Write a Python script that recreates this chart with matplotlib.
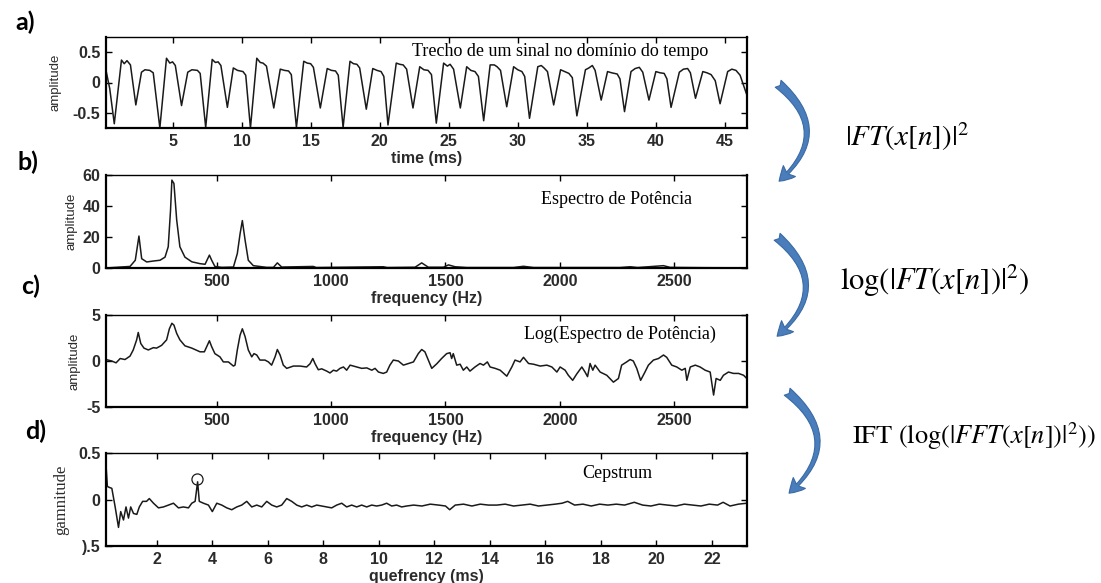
import matplotlib.pyplot as plt
from matplotlib.patches import FancyArrowPatch

plt.rcParams['mathtext.fontset'] = 'stix'

# a) time signal (ms, amplitude)
t_ms = [0.18, 0.45, 0.78, 1.3, 1.5, 1.7, 1.95, 2.34, 2.75, 3.0, 3.35, 3.6, 4.08,
        4.56, 4.8, 5.0, 5.2, 5.65, 6.1, 6.4, 6.8, 7.0, 7.4,
        7.87, 8.1, 8.3, 8.5, 8.97, 9.4, 9.7, 10.1, 10.3, 10.64,
        11.1, 11.35, 11.55, 11.8, 12.33, 12.8, 13.1, 13.4, 13.6, 13.97,
        14.5, 14.75, 15.0, 15.2, 15.7, 16.2, 16.5, 16.8, 17.0, 17.35,
        17.85, 18.1, 18.35, 18.55, 19.03, 19.5, 19.8, 20.1, 20.3, 20.6,
        21.2, 21.45, 21.7, 21.95, 22.41, 22.9, 23.2, 23.5, 23.75, 24.1,
        24.63, 24.9, 25.1, 25.35, 25.84, 26.3, 26.6, 26.9, 27.15, 27.53,
        28.0, 28.3, 28.5, 28.75, 29.2, 29.7, 30.0, 30.3, 30.5, 30.85,
        31.45, 31.7, 31.9, 32.15, 32.6, 33.1, 33.4, 33.7, 33.95, 34.28,
        34.9, 35.15, 35.4, 35.6, 36.04, 36.5, 36.8, 37.2, 37.4, 37.73,
        38.2, 38.5, 38.8, 39.05, 39.5, 40.0, 40.3, 40.6, 40.8, 41.1,
        41.7, 42.0, 42.3, 42.5, 42.87, 43.4, 43.7, 44.0, 44.3, 44.65,
        45.2, 45.5, 45.8, 46.1, 46.55]
amp = [0.2, -0.1, -0.68, 0.37, 0.31, 0.36, 0.29, -0.37, 0.17, 0.21, 0.2, 0.16, -0.75,
       0.40, 0.32, 0.34, 0.28, -0.38, 0.17, 0.21, 0.20, 0.15, -0.74,
       0.38, 0.33, 0.34, 0.28, -0.41, 0.24, 0.20, 0.18, 0.12, -0.75,
       0.40, 0.33, 0.32, 0.27, -0.42, 0.22, 0.20, 0.19, 0.13, -0.74,
       0.35, 0.32, 0.31, 0.25, -0.42, 0.23, 0.20, 0.19, 0.12, -0.74,
       0.35, 0.31, 0.30, 0.24, -0.44, 0.23, 0.20, 0.18, 0.10, -0.70,
       0.32, 0.30, 0.29, 0.22, -0.42, 0.26, 0.21, 0.20, 0.13, -0.67,
       0.32, 0.27, 0.30, 0.22, -0.42, 0.26, 0.20, 0.18, 0.10, -0.63,
       0.29, 0.29, 0.26, 0.20, -0.40, 0.26, 0.21, 0.18, 0.10, -0.59,
       0.26, 0.28, 0.24, 0.18, -0.37, 0.21, 0.18, 0.15, 0.08, -0.55,
       0.21, 0.24, 0.28, 0.20, -0.29, 0.18, 0.16, 0.14, 0.06, -0.48,
       0.18, 0.23, 0.25, 0.17, -0.29, 0.18, 0.16, 0.15, 0.06, -0.41,
       0.17, 0.22, 0.23, 0.16, -0.26, 0.18, 0.16, 0.13, 0.03, -0.35,
       0.18, 0.22, 0.20, 0.12, -0.18]

# b) power spectrum
f_pow = [16, 78, 121, 144, 160, 172, 194, 223, 252, 274, 288, 298, 304, 313, 325, 339,
         361, 391, 427, 449, 468, 478, 492, 522, 573, 590, 602, 612, 624, 638, 660, 682,
         718, 748, 765, 784, 922, 935, 1228, 1245, 1367, 1396, 1425, 1491, 1513, 1542,
         1593, 1797, 1841, 1885, 2263, 2307, 2340, 2453, 2482, 2635, 2820]
power = [0, 0.6, 1.0, 5, 20.6, 6, 3.9, 4.5, 5, 7, 13.7, 37, 56.7, 54.5, 31, 13.7,
         7, 4, 2.8, 2.4, 8.3, 5, 1, 0.4, 0.6, 9.3, 22, 30.6, 18, 5, 1.5, 1.1,
         0.4, 0.4, 3.3, 0.6, 1.0, 0.3, 0.8, 0.3, 0.5, 3.3, 0.5, 0.5, 2.0, 0.8,
         0.3, 0.3, 1.1, 0.3, 0.3, 0.8, 0.3, 1.5, 0.4, 0.2, 0.1]

# c) log power spectrum
f_log = [16, 41, 60, 78, 99, 121, 135, 150, 157, 168, 182, 201, 223, 237, 259, 281, 293,
         304, 313, 325, 339, 361, 391, 427, 446, 456, 468, 478, 492, 514, 529, 551, 573,
         580, 590, 602, 612, 624, 638, 653, 663, 675, 689, 711, 726, 740, 755, 765, 777,
         791, 806, 835, 864, 893, 908, 920, 930, 944, 959, 981, 995, 1010, 1024, 1039,
         1054, 1068, 1083, 1112, 1134, 1156, 1178, 1192, 1207, 1228, 1243, 1257, 1272,
         1294, 1316, 1338, 1360, 1381, 1396, 1410, 1425, 1440, 1462, 1483, 1505, 1520,
         1527, 1534, 1549, 1564, 1578, 1593, 1607, 1629, 1651, 1666, 1683, 1695, 1717,
         1739, 1768, 1790, 1804, 1826, 1841, 1863, 1885, 1914, 1943, 1965, 1987, 2001,
         2023, 2037, 2056, 2074, 2096, 2110, 2121, 2132, 2144, 2154, 2176, 2205, 2234,
         2256, 2270, 2292, 2307, 2321, 2336, 2353, 2372, 2387, 2409, 2431, 2453, 2467,
         2489, 2511, 2533, 2548, 2555, 2570, 2592, 2613, 2635, 2657, 2672, 2683, 2701,
         2715, 2737, 2759, 2781, 2803, 2817]
log_pow = [0.16, 0.0, -0.2, 0.27, 0.16, 0.53, 1.2, 2.3, 3.1, 1.9, 1.4, 1.2, 1.45, 1.4,
           1.7, 2.3, 3.5, 4.1, 3.9, 3.0, 2.3, 1.65, 1.4, 1.0, 1.0, 1.55, 2.2, 1.55, 0.8,
           0.45, -0.1, -0.1, -0.55, -0.45, 1.2, 2.8, 3.5, 2.65, 1.2, 0.45, 0.8, 0.65,
           0.1, 0.1, -0.1, -0.45, 0.45, 1.25, 0.65, -0.45, -0.8, -0.55, -0.55, -0.65,
           -0.3, 0.27, -0.3, -0.95, -0.85, -1.1, -1.3, -1.0, -1.1, -0.8, -0.65, -1.0,
           -0.45, -0.65, -0.8, -0.75, -1.0, -0.8, -1.2, -1.35, -1.2, -0.45, 0.1, 0.0,
           -0.45, -0.27, -0.1, 0.8, 1.25, 1.0, 0.1, -0.8, -0.3, 0.27, 0.8, 0.9, 0.27,
           0.8, -0.45, -0.35, -1.0, -0.65, -1.1, -0.65, -0.27, -0.45, -0.1, -0.65,
           -0.8, -1.0, -1.65, -0.65, 0.1, -0.1, 0.4, -0.27, -0.35, -0.55, -0.45, -0.65,
           -1.2, -0.65, -1.0, -1.55, -2.1, -1.4, -0.65, -1.2, -1.7, -0.27, -1.0, -0.45,
           -1.2, -1.55, -2.3, -1.9, -0.45, -0.1, 0.16, 0.0, -0.8, -2.1, -1.2, -0.45,
           0.1, 0.27, 0.65, 0.4, -0.45, -0.65, -1.0, -0.8, -2.1, -0.65, -0.45, -0.65,
           -1.0, -1.2, -3.7, -1.9, -2.1, -1.55, -1.2, -1.35, -1.35, -1.55, -1.9]

# d) cepstrum
q_ms = [0.17, 0.22, 0.29, 0.38, 0.5, 0.62, 0.7, 0.8, 0.89, 0.98, 1.06, 1.16, 1.28, 1.37,
        1.49, 1.63, 1.73, 1.88, 2.06, 2.24, 2.42, 2.6, 2.78, 2.96, 3.14, 3.26, 3.38, 3.47,
        3.53, 3.68, 3.86, 4.0, 4.16, 4.34, 4.52, 4.7, 4.88, 5.06, 5.24, 5.42, 5.6, 5.78,
        5.96, 6.14, 6.32, 6.5, 6.68, 6.86, 7.04, 7.22, 7.4, 7.58, 7.76, 7.94, 8.12, 8.3,
        8.48, 8.66, 8.84, 9.02, 9.2, 9.38, 9.56, 9.74, 9.92, 10.1, 10.28, 10.46, 10.64,
        10.82, 11.0, 11.25, 11.55, 11.85, 12.15, 12.4, 12.55, 12.75, 13.05, 13.35, 13.65,
        13.95, 14.25, 14.55, 14.85, 15.15, 15.45, 15.75, 16.05, 16.35, 16.6, 16.8, 17.05,
        17.35, 17.65, 17.95, 18.25, 18.55, 18.85, 19.2, 19.5, 19.8, 20.1, 20.4, 20.7,
        21.0, 21.3, 21.6, 21.9, 22.2, 22.4, 22.65, 22.95, 23.26]
ceps = [0.37, 0.14, 0.13, 0.12, -0.08, -0.3, -0.13, -0.22, -0.08, -0.2, -0.08, -0.15,
        -0.16, -0.08, -0.02, -0.02, 0.01, -0.04, -0.09, -0.08, -0.06, -0.04, -0.09,
        -0.08, -0.09, -0.04, -0.02, 0.19, -0.02, -0.04, -0.06, -0.13, -0.04, -0.06,
        -0.09, -0.11, -0.08, -0.06, -0.02, -0.08, -0.06, -0.08, -0.02, -0.06, -0.08,
        -0.06, 0.01, -0.02, -0.06, -0.08, -0.06, -0.08, -0.06, -0.07, -0.08, -0.09,
        -0.06, -0.04, -0.08, -0.06, -0.08, -0.06, -0.08, -0.06, -0.07, -0.06, -0.04,
        -0.07, -0.06, -0.08, -0.07, -0.06, -0.07, -0.05, -0.06, -0.07, -0.11, -0.06,
        -0.05, -0.07, -0.05, -0.06, -0.06, -0.05, -0.07, -0.06, -0.05, -0.07, -0.06,
        -0.05, -0.04, -0.02, -0.06, -0.05, -0.07, -0.05, -0.06, -0.05, -0.06, -0.03,
        -0.06, -0.07, -0.05, -0.06, -0.07, -0.05, -0.06, -0.07, -0.05, -0.06, -0.03,
        -0.07, -0.05, -0.04]
peak_q = 3.44
peak_c = 0.22

W, H = 1101, 583
fig = plt.figure(figsize=(W / 100, H / 100), dpi=100)


def fx(x):
    return x / W


def fy(y):
    return 1 - y / H


sans = 'Liberation Sans'
ink = '#2b2b2b'


def make_axes(top, bottom):
    ax = fig.add_axes([fx(106), fy(bottom), fx(747) - fx(106), fy(top) - fy(bottom)])
    ax.tick_params(direction='in', top=True, right=True, length=4, width=1,
                   labelsize=11.5, labelcolor=ink, pad=4)
    for side in ['left', 'bottom', 'right']:
        ax.spines[side].set_linewidth(1.6)
    ax.spines['top'].set_linewidth(1.0)
    return ax


line_kw = dict(color='#1a1a1a', lw=1.1)
label_font = {'family': sans, 'weight': 'bold', 'size': 11.5}

# panel a
ax1 = make_axes(37, 128)
ax1.plot(t_ms, amp, **line_kw)
ax1.set_xlim(0.18, 46.6)
ax1.set_ylim(-0.75, 0.75)
ax1.set_xticks([5, 10, 15, 20, 25, 30, 35, 40, 45])
ax1.set_yticks([-0.5, 0, 0.5])
ax1.set_yticklabels(['-0.5', '0', '0.5'])
ax1.set_xlabel('time (ms)', fontdict=label_font, color=ink, labelpad=2)
ax1.set_ylabel('amplitude', family=sans, size=9.5, color=ink, labelpad=8)

# panel b
ax2 = make_axes(175, 268)
ax2.plot(f_pow, power, **line_kw)
ax2.set_xlim(16, 2818)
ax2.set_ylim(0, 60)
ax2.set_xticks([500, 1000, 1500, 2000, 2500])
ax2.set_yticks([0, 20, 40, 60])
ax2.set_xlabel('frequency (Hz)', fontdict=label_font, color=ink, labelpad=2)
ax2.set_ylabel('amplitude', family=sans, size=9.5, color=ink, labelpad=4)

# panel c
ax3 = make_axes(315, 407)
ax3.plot(f_log, log_pow, **line_kw)
ax3.set_xlim(16, 2818)
ax3.set_ylim(-5, 5)
ax3.set_xticks([500, 1000, 1500, 2000, 2500])
ax3.set_yticks([-5, 0, 5])
ax3.set_yticklabels(['-5', '0', '5'])
ax3.set_xlabel('frequency (Hz)', fontdict=label_font, color=ink, labelpad=2)
ax3.set_ylabel('amplitude', family=sans, size=9.5, color=ink, labelpad=4)

# panel d
ax4 = make_axes(453, 546)
ax4.plot(q_ms, ceps, **line_kw)
ax4.plot([peak_q], [peak_c], marker='o', ms=8, mfc='none', mec='#1a1a1a', mew=0.9)
ax4.set_xlim(0.17, 23.26)
ax4.set_ylim(-0.5, 0.5)
ax4.set_xticks(list(range(2, 23, 2)))
ax4.set_yticks([-0.5, 0, 0.5])
ax4.set_yticklabels([').5', '0', '0.5'])
ax4.set_xlabel('quefrency (ms)', fontdict=label_font, color=ink, labelpad=2)
ax4.set_ylabel('gamnitude', family='Liberation Serif', size=12, color=ink, labelpad=6)

for ax in [ax1, ax2, ax3, ax4]:
    for lab in ax.get_xticklabels() + ax.get_yticklabels():
        lab.set_fontfamily(sans)
        lab.set_fontweight('bold')

# titles inside the panels
serif = 'Liberation Serif'
fig.text(fx(560), fy(52), 'Trecho de um sinal no domínio do tempo', family=serif,
         size=13, ha='center', va='center')
fig.text(fx(617), fy(199), 'Espectro de Potência', family=serif, size=13,
         ha='center', va='center')
fig.text(fx(620), fy(334), 'Log(Espectro de Potência)', family=serif, size=13,
         ha='center', va='center')
fig.text(fx(617), fy(473), 'Cepstrum', family=serif, size=13, ha='center', va='center')

# panel letters
for lbl, x, y in [('a)', 25, 22), ('b)', 28, 162), ('c)', 31, 286), ('d)', 36, 431)]:
    fig.text(fx(x), fy(y), lbl, family='Lato', weight='bold', size=18,
             ha='center', va='center')

# formulas
fig.text(fx(907), fy(137), r'$|FT(x[n])|^2$', size=21, ha='center', va='center')
fig.text(fx(935), fy(281), r'$\log(|FT(x[n])|^2)$', size=22, ha='center', va='center')
fig.text(fx(852), fy(436), r'IFT $(\log(|FFT(x[n])|^2))$', family='STIXGeneral',
         size=19, ha='left', va='center')

# curved arrows
for (x0, y0), (x1, y1) in [((776, 82), (777, 183)), ((775, 235), (775, 338)),
                           ((785, 390), (787, 495))]:
    arr = FancyArrowPatch((fx(x0), fy(y0)), (fx(x1), fy(y1)), transform=fig.transFigure,
                          connectionstyle='arc3,rad=-0.6',
                          arrowstyle='fancy,head_length=0.8,head_width=0.9,tail_width=0.5',
                          mutation_scale=13, fc='#4a7dbb', ec='#3a6aa3', lw=0.8)
    fig.patches.append(arr)

fig.savefig('out.png', dpi=100)
